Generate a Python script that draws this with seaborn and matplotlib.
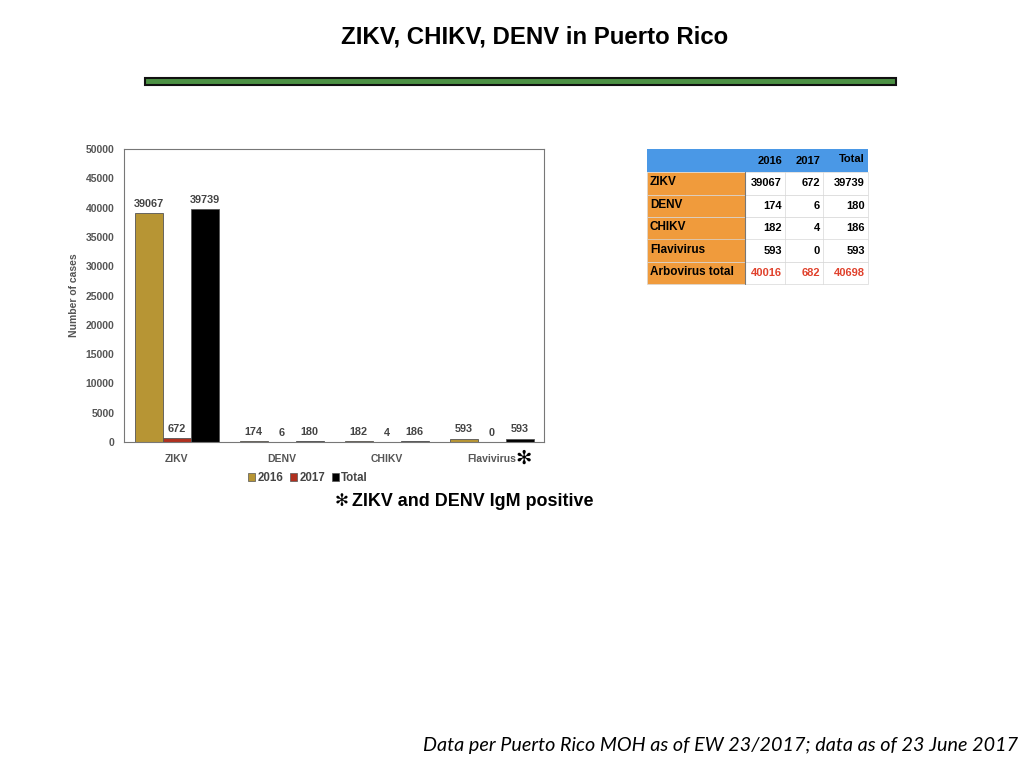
import matplotlib
matplotlib.use("Agg")
import matplotlib.pyplot as plt
import seaborn as sns
import pandas as pd
from matplotlib.patches import Rectangle

categories = ["ZIKV", "DENV", "CHIKV", "Flavivirus"]
series_names = ["2016", "2017", "Total"]
values_2016 = [39067, 174, 182, 593]
values_2017 = [672, 6, 4, 0]
values_total = [39739, 180, 186, 593]
yticks = [0, 5000, 10000, 15000, 20000, 25000, 30000, 35000, 40000, 45000, 50000]

table_rows = ["ZIKV", "DENV", "CHIKV", "Flavivirus", "Arbovirus total"]
table_2016 = [39067, 174, 182, 593, 40016]
table_2017 = [672, 6, 4, 0, 682]
table_total = [39739, 180, 186, 593, 40698]

colors = {"2016": "#b79534", "2017": "#b0301f", "Total": "#000000"}

sns.set_theme(style="white")
plt.rcParams['font.family'] = ['Liberation Sans', 'DejaVu Sans']
plt.rcParams['text.color'] = 'black'

rows = []
for i, c in enumerate(categories):
    for s, vals in zip(series_names, [values_2016, values_2017, values_total]):
        rows.append({"category": c, "series": s, "value": vals[i]})
df = pd.DataFrame(rows)

fig = plt.figure(figsize=(10.24, 7.68), dpi=100)
ax = fig.add_axes([124/1024, 1-442/768, 420/1024, 293/768])
sns.barplot(data=df, x="category", y="value", hue="series", order=categories,
            hue_order=series_names, palette=colors, width=0.8, ax=ax, saturation=1,
            edgecolor="#555555", linewidth=0.6, legend=False)
ax.set_ylim(0, 50000)
ax.set_yticks(yticks)
ax.set_yticklabels([str(t) for t in yticks], fontsize=7.5, color="#555555", fontweight="bold")
ax.set_xlabel("")
ax.set_ylabel("Number of cases", fontsize=7.5, color="#555555", fontweight="bold", labelpad=5)
ax.set_xticks(range(len(categories)))
ax.set_xticklabels(categories, fontsize=7.5, color="#555555", fontweight="bold")
ax.tick_params(axis="x", length=0, pad=9)
ax.tick_params(axis="y", length=0, pad=7)
for sp in ax.spines.values():
    sp.set_color("#777777")
    sp.set_linewidth(0.8)

for cont in ax.containers:
    ax.bar_label(cont, labels=[str(int(v)) for v in cont.datavalues], padding=3,
                 fontsize=7.8, color="#444444", fontweight="bold")

# asterisk after Flavivirus
fig.text(524/1024, 1-458/768, "✻", fontsize=14, fontweight="bold", ha="center", va="center",
         family=["DejaVu Sans"])

# legend
handles = [Rectangle((0, 0), 1, 1, facecolor=colors[s], edgecolor="#555555", linewidth=0.5) for s in series_names]
fig.legend(handles, series_names, loc="center", bbox_to_anchor=(308/1024, 1-478/768), ncol=3,
           frameon=False, handlelength=0.6, handleheight=0.6, handletextpad=0.2,
           columnspacing=0.6, labelcolor="#444444", prop={"weight": "bold", "size": 8.3})

fig.text(342/1024, 1-501/768, "✻", fontsize=12, fontweight="bold", ha="center", va="center",
         family=["DejaVu Sans"])
fig.text(352/1024, 1-501/768, "ZIKV and DENV IgM positive", fontsize=12.9, fontweight="bold",
         ha="left", va="center")

# title
fig.text(535/1024, 1-37/768, "ZIKV, CHIKV, DENV in Puerto Rico", fontsize=17.3, fontweight="bold",
         ha="center", va="center")
# green rule
fig.patches.append(Rectangle((145/1024, 1-85/768), 751/1024, 7/768, transform=fig.transFigure,
                             facecolor="#4c9144", edgecolor="#111111", linewidth=1.5))

# table
tx = [647, 745, 785, 823, 868]
ty0 = 149
hh = 23
rh = 22.5
def fx(x): return x/1024
def fy(y): return 1-y/768
# header
fig.patches.append(Rectangle((fx(tx[0]), fy(ty0+hh)), fx(tx[-1]-tx[0]), hh/768, transform=fig.transFigure,
                             facecolor="#4a98e6", edgecolor="none"))
for j, h in enumerate(["2016", "2017", "Total"]):
    fig.text(fx(tx[j+2]-3), fy(ty0+hh/2 + (0 if h != "Total" else -2)), h, fontsize=8, fontweight="bold",
             ha="right", va="center")
for i, name in enumerate(table_rows):
    y_top = ty0 + hh + i*rh
    fig.patches.append(Rectangle((fx(tx[0]), fy(y_top+rh)), fx(tx[1]-tx[0]), rh/768, transform=fig.transFigure,
                                 facecolor="#f09b3c", edgecolor="#d8d8d8", linewidth=0.5))
    fig.patches.append(Rectangle((fx(tx[1]), fy(y_top+rh)), fx(tx[-1]-tx[1]), rh/768, transform=fig.transFigure,
                                 facecolor="white", edgecolor="#d8d8d8", linewidth=0.5))
    for j in range(1, 4):
        fig.lines.append(plt.Line2D([fx(tx[j]), fx(tx[j])], [fy(y_top), fy(y_top+rh)],
                                    transform=fig.transFigure, color="#d8d8d8", linewidth=0.5))
    fig.text(fx(tx[0]+3), fy(y_top+rh/2-1), name, fontsize=8.5, fontweight="bold", ha="left", va="center")
    vc = "#e0412c" if i == len(table_rows)-1 else "black"
    for j, vals in enumerate([table_2016, table_2017, table_total]):
        fig.text(fx(tx[j+2]-3), fy(y_top+rh/2), str(vals[i]), fontsize=8, fontweight="bold",
                 ha="right", va="center", color=vc)
fig.lines.append(plt.Line2D([fx(tx[1]), fx(tx[1])], [fy(ty0+hh), fy(ty0+hh+5*rh)],
                            transform=fig.transFigure, color="#777777", linewidth=0.8))

fig.text(1018/1024, 1-745/768, "Data per Puerto Rico MOH as of EW 23/2017; data as of 23 June 2017",
         fontsize=14.2, fontstyle="italic", ha="right", va="center", family=["Lato", "DejaVu Sans"])

fig.savefig("out.png", dpi=100)
